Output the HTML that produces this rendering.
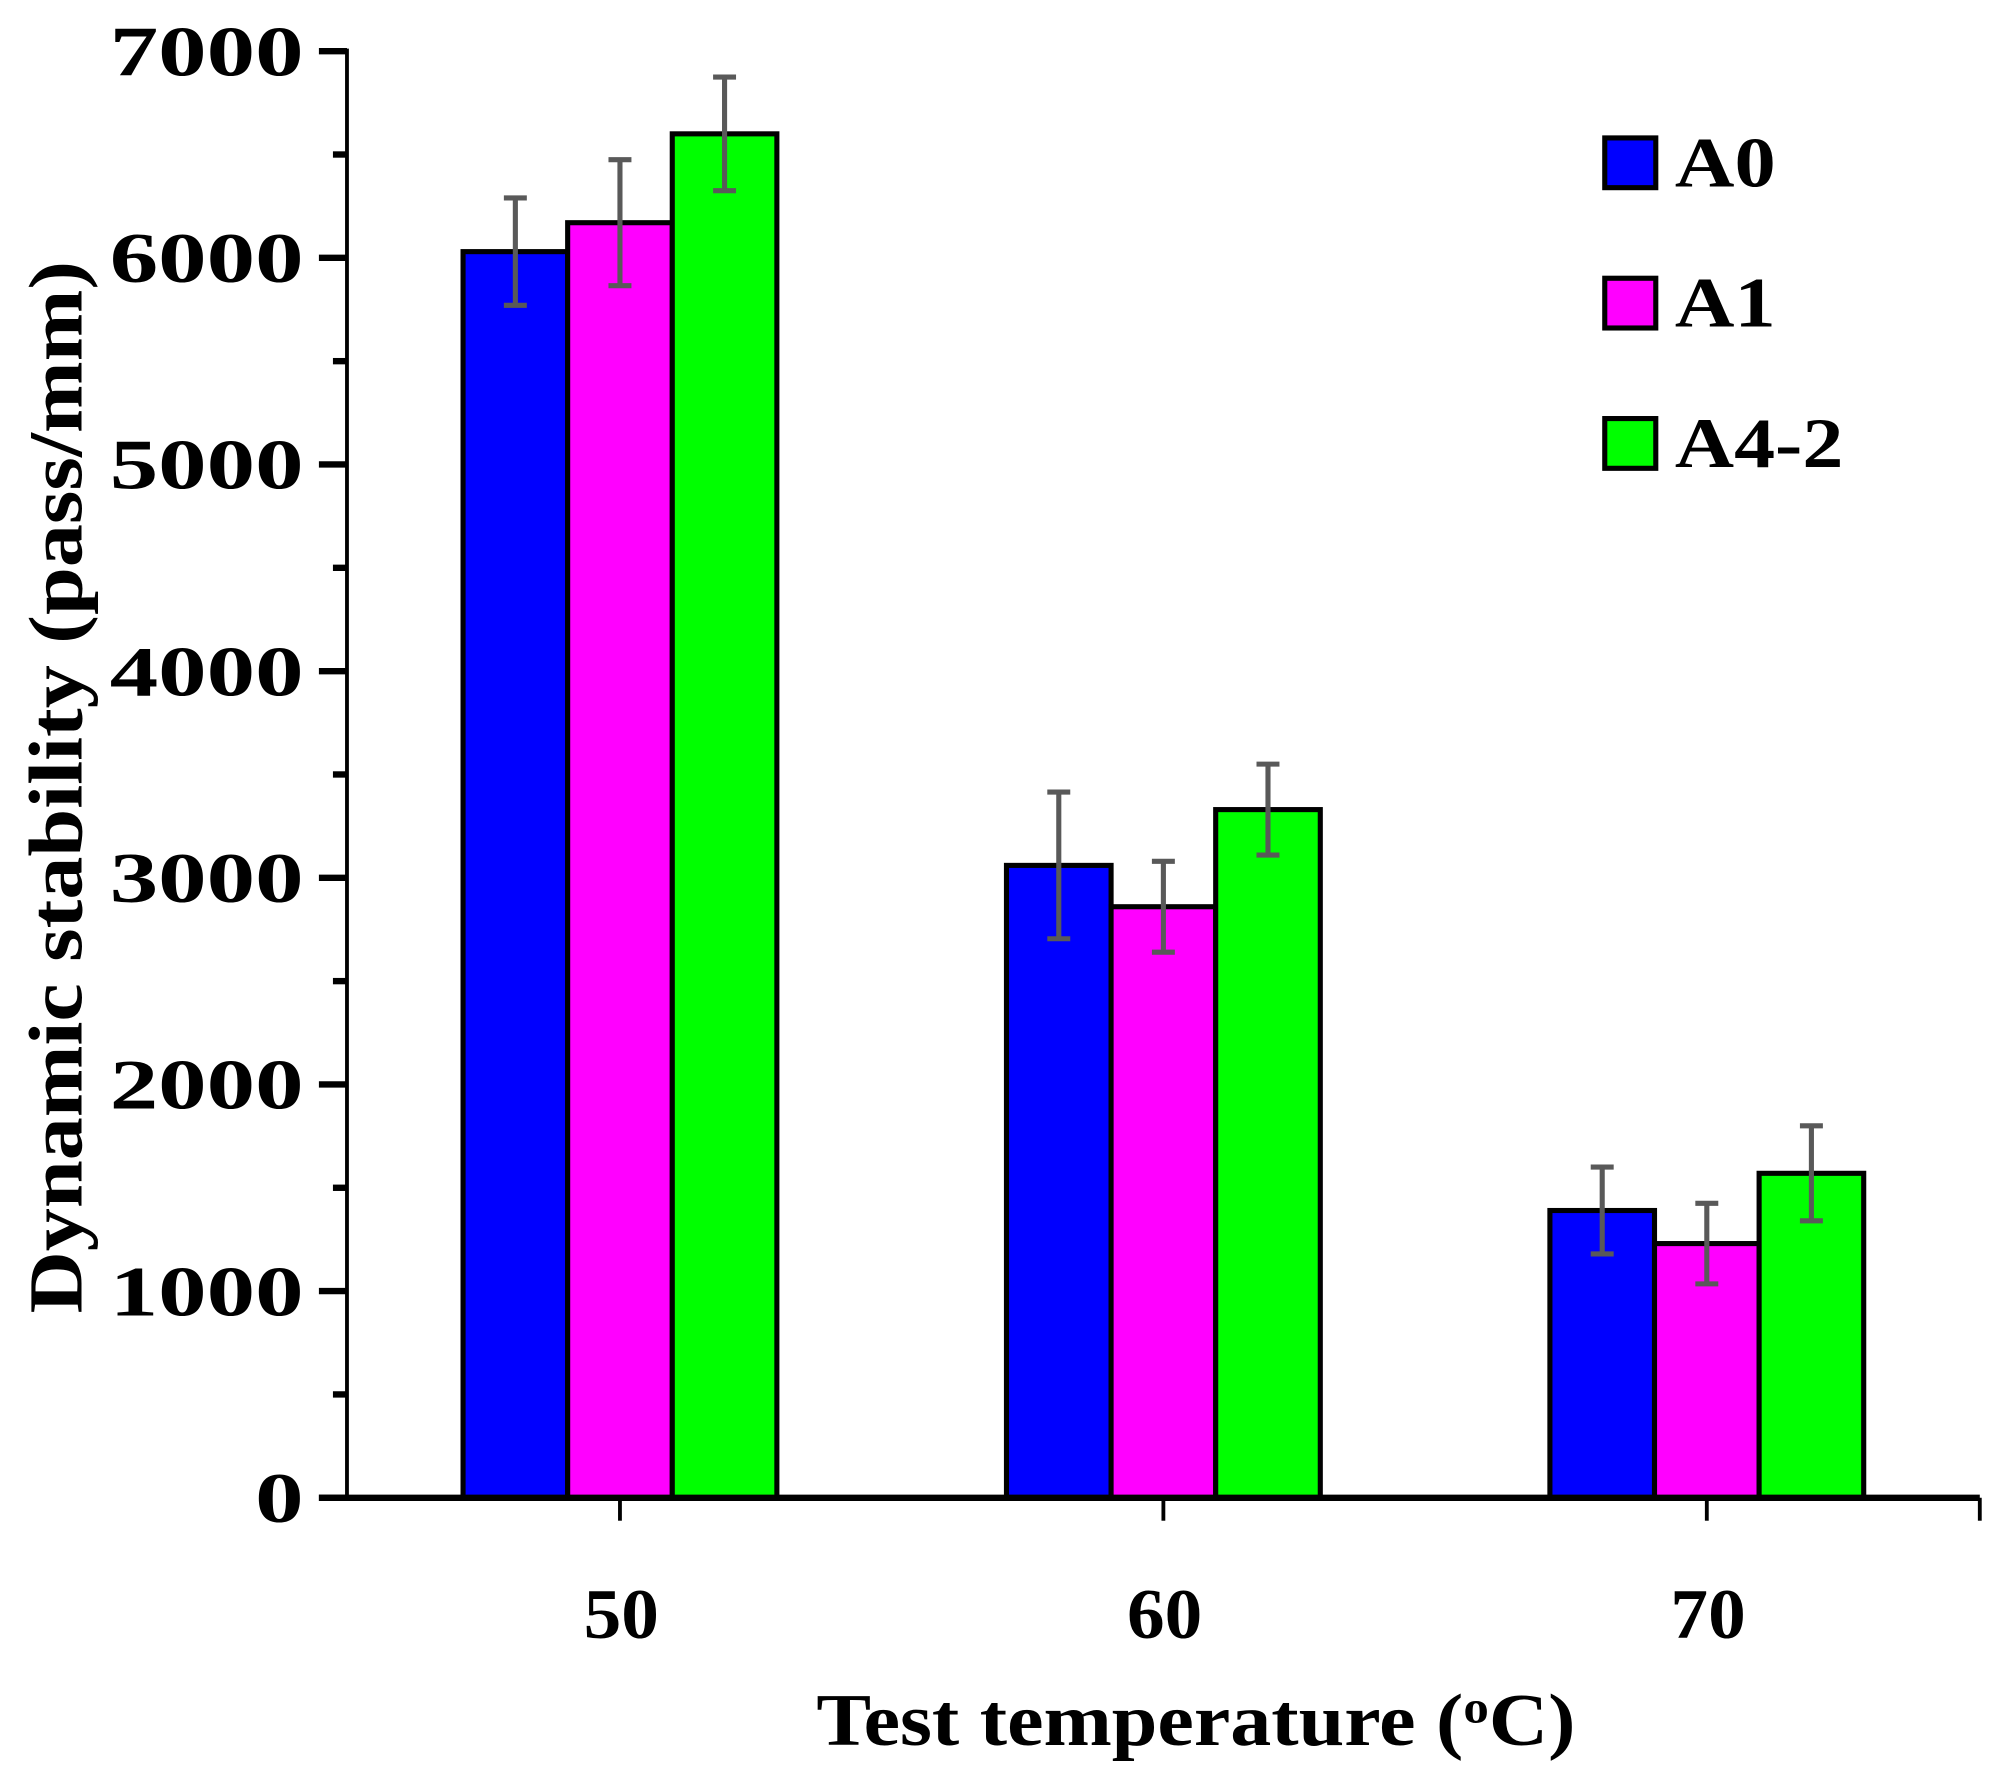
<!DOCTYPE html>
<html><head><meta charset="utf-8"><style>
html,body{margin:0;padding:0;background:#fff;}
svg{display:block;}
text{font-family:"Liberation Serif",serif;font-weight:bold;fill:#000;}
</style></head><body>
<svg id="chart" width="1990" height="1776" viewBox="0 0 1560 1392" xmlns="http://www.w3.org/2000/svg"></svg>
<script>
const categories = ["50","60","70"];
const seriesNames = ["A0","A1","A4-2"];
const seriesColors = ["#0000ff","#ff00ff","#00ff00"];
const valuesA0 = [6030, 3060, 1390];
const valuesA1 = [6170, 2860, 1230];
const valuesA42 = [6600, 3330, 1570];
const errA0 = [260, 355, 210];
const errA1 = [305, 220, 195];
const errA42 = [275, 220, 230];
const yTicks = [0,1000,2000,3000,4000,5000,6000,7000];
const yMinorTicks = [500,1500,2500,3500,4500,5500,6500];

const series = [valuesA0, valuesA1, valuesA42];
const errs = [errA0, errA1, errA42];
const svg = document.getElementById('chart');
const NS = "http://www.w3.org/2000/svg";
const X0 = 272, Y0 = 1174, YTOP = 40, XEND = 1552, YMAX = 7000;
const catStart = 486, catStep = 426, barW = 82;
function y(v){ return Y0 - v/YMAX*(Y0-YTOP); }
function xc(i){ return catStart + i*catStep; }
function mk(tag, attrs, parent){
  const e = document.createElementNS(NS, tag);
  for (const k in attrs) e.setAttribute(k, attrs[k]);
  (parent||svg).appendChild(e);
  return e;
}

series.forEach((vals, s) => {
  vals.forEach((v, i) => {
    const cx = xc(i) + (s-1)*barW;
    const r = mk('rect', {x: cx-barW/2, y: y(v), width: barW, height: Y0-y(v), fill: seriesColors[s], stroke: '#000', 'stroke-width': 4});
    
    
  });
});
series.forEach((vals, s) => {
  vals.forEach((v, i) => {
    const cx = xc(i) + (s-1)*barW;
    const g = mk('g', {stroke: '#595959', 'stroke-width': 4});
    
    
    const hi = y(v+errs[s][i]), lo = y(v-errs[s][i]);
    mk('line', {x1: cx, x2: cx, y1: hi, y2: lo}, g);
    mk('line', {x1: cx-9, x2: cx+9, y1: hi, y2: hi}, g);
    mk('line', {x1: cx-9, x2: cx+9, y1: lo, y2: lo}, g);
  });
});

const ya = mk('line', {x1: X0, x2: X0, y1: YTOP-2, y2: Y0+2, stroke: '#000', 'stroke-width': 3});


const xa = mk('line', {x1: 250, x2: XEND, y1: Y0, y2: Y0, stroke: '#000', 'stroke-width': 5});


mk('line', {x1: XEND, x2: XEND, y1: Y0, y2: Y0+18, stroke: '#000', 'stroke-width': 3});

yTicks.forEach(t => {
  mk('line', {x1: 250, x2: X0, y1: y(t), y2: y(t), stroke: '#000', 'stroke-width': 5});
  const s = String(t);
  const tx = mk('text', {x: 238, y: y(t)+19, 'text-anchor': 'end', 'font-size': 56, textLength: 38*s.length, lengthAdjust: 'spacingAndGlyphs'});
  tx.textContent = t;
  
  
});
yMinorTicks.forEach(t => {
  mk('line', {x1: 261, x2: X0, y1: y(t), y2: y(t), stroke: '#000', 'stroke-width': 5});
});
categories.forEach((c, i) => {
  mk('line', {x1: xc(i), x2: xc(i), y1: Y0, y2: Y0+18, stroke: '#000', 'stroke-width': 3});
  const tx = mk('text', {x: xc(i)+1, y: 1284, 'text-anchor': 'middle', 'font-size': 56, textLength: 59, lengthAdjust: 'spacingAndGlyphs'});
  tx.textContent = c;
  
  
});

const xt = mk('text', {x: 640, y: 1368, 'font-size': 58, textLength: 595, lengthAdjust: 'spacingAndGlyphs'});
xt.innerHTML = 'Test temperature (<tspan dy="-18" font-size="36">o</tspan><tspan dy="18">C)</tspan>';


const yt = mk('text', {x: 0, y: 0, 'text-anchor': 'middle', 'font-size': 60, textLength: 825, lengthAdjust: 'spacingAndGlyphs', transform: 'translate(64,617) rotate(-90)'});
yt.textContent = 'Dynamic stability (pass/mm)';



seriesNames.forEach((n, s) => {
  const g = mk('g', {});
  
  
  const ly = 108 + s*110;
  mk('rect', {x: 1258, y: ly, width: 40, height: 39, fill: seriesColors[s], stroke: '#000', 'stroke-width': 4}, g);
  const tx = mk('text', {x: 1313, y: ly+38, 'font-size': 56, textLength: n.length === 2 ? 79 : 132, lengthAdjust: 'spacingAndGlyphs'}, g);
  tx.textContent = n;
});
</script>
</body></html>
